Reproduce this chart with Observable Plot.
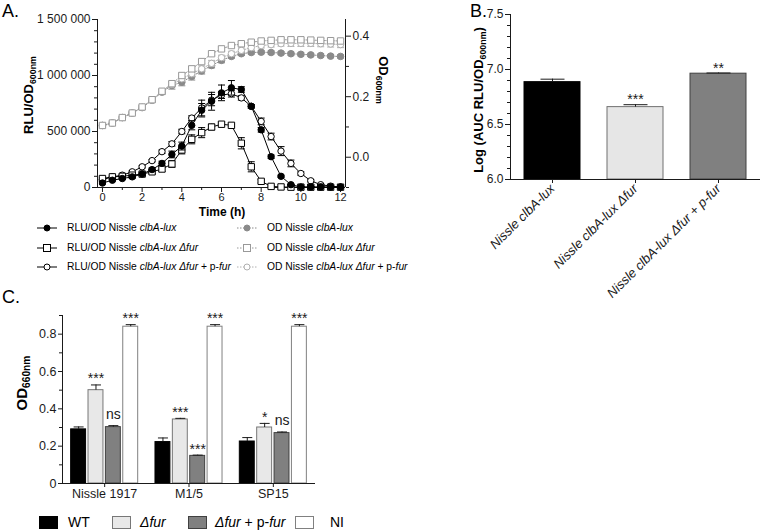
<!DOCTYPE html>
<html><head><meta charset="utf-8">
<script src="https://cdn.jsdelivr.net/npm/d3@7"></script>
<script src="https://cdn.jsdelivr.net/npm/@observablehq/plot@0.6"></script>
<style>
body{margin:0;background:#fff;font-family:"Liberation Sans",Arial,sans-serif;}
#fig{position:relative;width:760px;height:532px;overflow:hidden;background:#fff;}
.abs{position:absolute;white-space:nowrap;color:#000;line-height:1;}
.rotL{transform:translate(-50%,-50%) rotate(-90deg);}
.rotR{transform:translate(-50%,-50%) rotate(90deg);}
.sub{font-size:0.68em;position:relative;top:0.32em;}
.ctr{transform:translate(-50%,-50%);}
.leg{display:flex;align-items:center;transform:translateY(-50%);}
#panelB g[aria-label="x-axis tick label"] text{font-style:italic;}
</style>
</head><body>
<div id="fig"></div>
<script>
// ---------- Panel A data ----------
const timeH = [0,0.5,1,1.5,2,2.5,3,3.5,4,4.5,5,5.5,6,6.5,7,7.5,8,8.5,9,9.5,10,10.5,11,11.5,12];
const rluWT = [40000,65000,80000,95000,120000,160000,215000,295000,370000,555000,690000,770000,845000,890000,875000,725000,515000,275000,100000,25000,5000,4000,4000,4000,4000];
const rluWTerr = [10000,8000,8000,10000,10000,15000,20000,30000,35000,40000,60000,80000,70000,65000,25000,15000,20000,15000,10000,5000,3000,3000,3000,3000,3000];
const rluFur = [80000,95000,100000,110000,120000,140000,165000,210000,335000,430000,490000,540000,565000,555000,395000,185000,55000,10000,5000,3000,3000,3000,3000,3000,3000];
const rluFurErr = [8000,8000,8000,8000,10000,15000,20000,30000,35000,40000,45000,25000,12000,10000,50000,45000,15000,5000,3000,3000,3000,3000,3000,3000,3000];
const rluComp = [70000,95000,110000,140000,185000,240000,320000,390000,500000,620000,710000,780000,825000,838000,800000,725000,590000,455000,325000,215000,125000,60000,25000,12000,5000];
const rluCompErr = [8000,8000,8000,10000,10000,10000,15000,20000,20000,20000,70000,50000,30000,30000,20000,15000,30000,30000,40000,30000,15000,10000,8000,5000,5000];
const odWT = [0.105,0.113,0.131,0.146,0.164,0.188,0.215,0.237,0.248,0.267,0.285,0.303,0.320,0.333,0.342,0.346,0.347,0.346,0.344,0.342,0.340,0.338,0.336,0.334,0.333];
const odWTerr = [0.004,0.004,0.004,0.004,0.005,0.006,0.008,0.012,0.012,0.012,0.010,0.008,0.008,0.006,0.006,0.005,0.005,0.005,0.005,0.005,0.005,0.005,0.005,0.005,0.005];
const odFur = [0.105,0.113,0.131,0.146,0.166,0.190,0.218,0.243,0.270,0.292,0.316,0.342,0.358,0.369,0.375,0.380,0.384,0.386,0.388,0.388,0.388,0.387,0.386,0.385,0.384];
const odFurErr = [0.004,0.004,0.004,0.004,0.005,0.006,0.006,0.008,0.008,0.008,0.006,0.006,0.006,0.006,0.006,0.006,0.006,0.006,0.006,0.006,0.006,0.006,0.006,0.006,0.006];
const odComp = [0.105,0.113,0.131,0.146,0.165,0.189,0.216,0.240,0.259,0.276,0.292,0.310,0.329,0.342,0.353,0.362,0.369,0.372,0.375,0.376,0.376,0.376,0.375,0.374,0.372];
const odCompErr = [0.004,0.004,0.004,0.004,0.005,0.006,0.006,0.008,0.008,0.010,0.010,0.010,0.008,0.008,0.008,0.008,0.008,0.008,0.008,0.010,0.010,0.010,0.010,0.010,0.010];
const rluTicks = [0,500000,1000000,1500000];
const rluMinor = [100000,200000,300000,400000,600000,700000,800000,900000,1100000,1200000,1300000,1400000];
const odTicks = [0.0,0.2,0.4];
const odMinor = [-0.1,0.1,0.3];
const timeTicks = [0,2,4,6,8,10,12];
const timeMinor = [1,3,5,7,9,11];
const xDomainA = [-0.25,12.25];
const rluDomain = [0,1500000];
const odDomain = [-0.1,0.455];

// ---------- Panel B data ----------
const bLabels = ["Nissle clbA-lux","Nissle clbA-lux Δfur","Nissle clbA-lux Δfur + p-fur"];
const bValues = [6.885,6.658,6.962];
const bErr = [0.027,0.022,0.006];
const bStars = ["","***","**"];
const bFill = ["#000000","#e6e6e6","#808080"];
const bStroke = ["#000000","#707070","#404040"];
const bTicks = [6.0,6.5,7.0,7.5];
const bMinor = [6.1,6.2,6.3,6.4,6.6,6.7,6.8,6.9,7.1,7.2,7.3,7.4];

// ---------- Panel C data ----------
const cGroups = ["Nissle 1917","M1/5","SP15"];
const cSeries = ["WT","Δfur","Δfur + p-fur","NI"];
const cWT = [0.290,0.222,0.225];
const cWTerr = [0.013,0.022,0.021];
const cFur = [0.500,0.343,0.300];
const cFurErr = [0.028,0.006,0.022];
const cComp = [0.302,0.148,0.270];
const cCompErr = [0.008,0.004,0.006];
const cNI = [0.840,0.840,0.840];
const cNIErr = [0.011,0.011,0.011];
const cStarsWT = ["","",""];
const cStarsFur = ["***","***","*"];
const cStarsComp = ["ns","***","ns"];
const cStarsNI = ["***","***","***"];
const cFill = ["#000000","#e8e8e8","#808080","#ffffff"];
const cStroke = ["#000000","#777777","#404040","#808080"];
const cTicks = [0,0.2,0.4,0.6,0.8];
const cMinor = [0.1,0.3,0.5,0.7,0.9];

// ---------- helpers ----------
const fig = document.getElementById("fig");
const FONT = '"Liberation Sans", Arial, sans-serif';
function place(node, left, top){ const w=document.createElement("div"); w.style.position="absolute"; w.style.left=left+"px"; w.style.top=top+"px"; w.appendChild(node); fig.appendChild(w); return w; }
function txt(html, left, top, css){ const d=document.createElement("div"); d.className="abs "+(css||""); d.innerHTML=html; d.style.left=left+"px"; d.style.top=top+"px"; fig.appendChild(d); return d; }
const cap = w => ({draw(ctx){ ctx.moveTo(-w,0); ctx.lineTo(w,0); }});
const plotStyle = {background:"transparent", maxWidth:"none", overflow:"visible", fontFamily:FONT, color:"#1a1a1a"};

// ---------- Panel A ----------
const odToRlu = v => (v - odDomain[0]) / (odDomain[1]-odDomain[0]) * (rluDomain[1]-rluDomain[0]) + rluDomain[0];
const rluToOd = v => (v - rluDomain[0]) / (rluDomain[1]-rluDomain[0]) * (odDomain[1]-odDomain[0]) + odDomain[0];
const mk = (vals, errs, conv) => timeH.map((t,i)=>({t, v: conv(vals[i]), lo: conv(vals[i]-errs[i]), hi: conv(vals[i]+errs[i])}));
const id = v => v;
const sWT = mk(rluWT, rluWTerr, id), sFur = mk(rluFur, rluFurErr, id), sComp = mk(rluComp, rluCompErr, id);
const oWT = mk(odWT, odWTerr, odToRlu), oFur = mk(odFur, odFurErr, odToRlu), oComp = mk(odComp, odCompErr, odToRlu);

function seriesMarks(data, o){
  return [
    Plot.line(data, {x:"t", y:"v", stroke:o.stroke, strokeWidth:1, strokeDasharray:o.dash}),
    Plot.ruleX(data, {x:"t", y1:"lo", y2:"hi", stroke:o.stroke, strokeWidth:1}),
    Plot.dot(data, {x:"t", y:"hi", symbol:cap(3.5), stroke:o.stroke, strokeWidth:1}),
    Plot.dot(data, {x:"t", y:"lo", symbol:cap(3.5), stroke:o.stroke, strokeWidth:1}),
    Plot.dot(data, {x:"t", y:"v", symbol:o.symbol, r:o.r, fill:o.fill, stroke:o.stroke, strokeWidth:1})
  ];
}
const fmtSpace = d => d3.format(",")(d).replace(/,/g," ");
const plotA = Plot.plot({
  width:400, height:220, marginLeft:97, marginRight:55, marginTop:19, marginBottom:33,
  x:{domain:xDomainA}, y:{domain:rluDomain},
  style:plotStyle,
  marks:[
    Plot.axisY({ticks:rluMinor, tickSize:3, tickFormat:()=>"", label:null}),
    Plot.axisY({ticks:rluTicks, tickSize:5, tickPadding:2, tickFormat:fmtSpace, fontSize:12, label:null}),
    Plot.axisY({anchor:"right", ticks:odMinor.map(odToRlu), tickSize:3, tickFormat:()=>"", label:null}),
    Plot.axisY({anchor:"right", ticks:odTicks.map(odToRlu), tickSize:5, tickPadding:2, tickFormat:d=>d3.format(".1f")(Math.abs(rluToOd(d))<1e-9?0:rluToOd(d)), fontSize:12, label:null}),
    Plot.axisX({ticks:timeMinor, tickSize:3, tickFormat:()=>"", label:null}),
    Plot.axisX({ticks:timeTicks, tickSize:5, tickPadding:1, fontSize:11, label:null}),
    Plot.ruleX([xDomainA[0], xDomainA[1]], {stroke:"#1a1a1a"}),
    Plot.ruleY([rluDomain[0]], {stroke:"#1a1a1a"}),
    ...seriesMarks(oWT, {stroke:"#8a8a8a", fill:"#8a8a8a", symbol:"circle", r:3.3, dash:"1.5,1.5"}),
    ...seriesMarks(oComp, {stroke:"#b0b0b0", fill:"white", symbol:"circle", r:3.2, dash:"1.5,1.5"}),
    ...seriesMarks(oFur, {stroke:"#999999", fill:"white", symbol:"square", r:3.6, dash:"1.5,1.5"}),
    ...seriesMarks(sComp, {stroke:"#000", fill:"white", symbol:"circle", r:3.2}),
    ...seriesMarks(sFur, {stroke:"#000", fill:"white", symbol:"square", r:3.6}),
    ...seriesMarks(sWT, {stroke:"#000", fill:"#000", symbol:"circle", r:3.2})
  ]
});
place(plotA, 0, 0);

// ---------- Panel B ----------
const bData = bLabels.map((l,i)=>({l, v:bValues[i], hi:bValues[i]+bErr[i], star:bStars[i], fill:bFill[i], stroke:bStroke[i]}));
const plotB = Plot.plot({
  width:300, height:260, marginLeft:50, marginRight:0, marginTop:14, marginBottom:81,
  x:{domain:bLabels, paddingInner:0.33, paddingOuter:0.165},
  y:{domain:[bTicks[0], bTicks[bTicks.length-1]]},
  color:{type:"identity"},
  style:plotStyle,
  marks:[
    Plot.axisY({ticks:bMinor, tickSize:3, tickFormat:()=>"", label:null}),
    Plot.axisY({ticks:bTicks, tickSize:5, tickPadding:2, tickFormat:d3.format(".1f"), fontSize:12, label:null}),
    Plot.axisX({tickSize:4, tickPadding:3, tickRotate:-45, fontSize:13, fontStyle:"italic", label:null}),
    Plot.barY(bData, {x:"l", y1:bTicks[0], y2:"v", fill:"fill", stroke:"stroke", strokeWidth:1}),
    Plot.ruleX(bData, {x:"l", y1:"v", y2:"hi", stroke:"#1a1a1a"}),
    Plot.dot(bData, {x:"l", y:"hi", symbol:cap(12), stroke:"#1a1a1a", strokeWidth:1}),
    Plot.text(bData, {x:"l", y:"hi", text:"star", dy:-5, fontSize:14}),
    Plot.frame({anchor:"left", stroke:"#1a1a1a"}),
    Plot.ruleY([bTicks[0]], {stroke:"#1a1a1a"})
  ]
});
plotB.id = "panelB";
place(plotB, 460, 0);

// ---------- Panel C ----------
const inner = d3.scaleBand().domain(cSeries).range([0.1025, 0.8975]).paddingInner(0.14);
const cVals = [cWT, cFur, cComp, cNI], cErrs = [cWTerr, cFurErr, cCompErr, cNIErr], cStars = [cStarsWT, cStarsFur, cStarsComp, cStarsNI];
const cData = [];
cGroups.forEach((g, gi) => cSeries.forEach((s, si) => cData.push({
  gi, s, x1: gi + inner(s), x2: gi + inner(s) + inner.bandwidth(), xc: gi + inner(s) + inner.bandwidth()/2,
  v: cVals[si][gi], hi: cVals[si][gi] + cErrs[si][gi], star: cStars[si][gi], fill: cFill[si], stroke: cStroke[si]
})));
const plotC = Plot.plot({
  width:330, height:210, marginLeft:62, marginRight:15, marginTop:15, marginBottom:27,
  x:{domain:[0, cGroups.length]},
  y:{domain:[0, cMinor[cMinor.length-1]]},
  color:{type:"identity"},
  style:plotStyle,
  marks:[
    Plot.axisY({ticks:cMinor, tickSize:3, tickFormat:()=>"", label:null}),
    Plot.axisY({ticks:cTicks, tickSize:4, tickPadding:2, tickFormat:d=>d===0?"0":d3.format(".1f")(d), fontSize:12.5, label:null}),
    Plot.axisX({ticks:cGroups.map((g,i)=>i+0.5), tickSize:4, tickPadding:2, tickFormat:d=>cGroups[Math.floor(d)], fontSize:12.5, label:null}),
    Plot.rectY(cData, {x1:"x1", x2:"x2", y1:0, y2:"v", fill:"fill", stroke:"stroke", strokeWidth:1}),
    Plot.ruleX(cData, {x:"xc", y1:"v", y2:"hi", stroke:"#1a1a1a"}),
    Plot.dot(cData, {x:"xc", y:"hi", symbol:cap(5), stroke:"#1a1a1a", strokeWidth:1}),
    Plot.text(cData.filter(d=>d.star && d.star!=="ns"), {x:"xc", y:"hi", text:"star", dy:-6, fontSize:14}),
    Plot.text(cData.filter(d=>d.star==="ns"), {x:"xc", y:"hi", text:"star", dy:-11, fontSize:14}),
    Plot.ruleX([0], {stroke:"#1a1a1a"}),
    Plot.ruleY([0], {stroke:"#1a1a1a"})
  ]
});
place(plotC, 0, 300);

// ---------- Text overlays ----------
txt("A.", 2, 2, "").style.fontSize = "18px";
txt("B.", 470, 2, "").style.fontSize = "18px";
txt("C.", 2, 288, "").style.fontSize = "18px";
let e;
e = txt('RLU/OD<span class="sub">600nm</span>', 28, 95, "rotL"); e.style.fontSize="13px"; e.style.fontWeight="bold";
e = txt('OD<span class="sub">600nm</span>', 383, 80, "rotR"); e.style.fontSize="13px"; e.style.fontWeight="bold";
e = txt('Time (h)', 222, 212, "ctr"); e.style.fontSize="12px"; e.style.fontWeight="bold";
e = txt('Log (AUC RLU/OD<span class="sub">600nm</span>)', 478, 100, "rotL"); e.style.fontSize="13px"; e.style.fontWeight="bold";
e = txt('OD<span class="sub">660nm</span>', 22, 383, "rotL"); e.style.fontSize="15px"; e.style.fontWeight="bold";

// Legend A
const legA = [
  {x:37, y:228, line:"#000", dash:"", sym:"circle", fill:"#000", stroke:"#000", html:'RLU/OD Nissle <i>clbA-lux</i>'},
  {x:37, y:248, line:"#000", dash:"", sym:"square", fill:"#fff", stroke:"#000", html:'RLU/OD Nissle <i>clbA-lux Δfur</i>'},
  {x:37, y:267, line:"#000", dash:"", sym:"circle", fill:"#fff", stroke:"#000", html:'RLU/OD Nissle <i>clbA-lux Δfur</i> + p-<i>fur</i>'},
  {x:237, y:228, line:"#8a8a8a", dash:"1.5,1.5", sym:"circle", fill:"#8a8a8a", stroke:"#8a8a8a", html:'OD Nissle <i>clbA-lux</i>'},
  {x:237, y:248, line:"#999999", dash:"1.5,1.5", sym:"square", fill:"#fff", stroke:"#999999", html:'OD Nissle <i>clbA-lux Δfur</i>'},
  {x:237, y:267, line:"#b0b0b0", dash:"1.5,1.5", sym:"circle", fill:"#fff", stroke:"#b0b0b0", html:'OD Nissle <i>clbA-lux Δfur</i> + p-<i>fur</i>'}
];
legA.forEach(L => {
  const m = L.sym==="circle" ? `<circle cx="10" cy="6" r="3" fill="${L.fill}" stroke="${L.stroke}"/>` : `<rect x="6.5" y="2.5" width="7" height="7" fill="${L.fill}" stroke="${L.stroke}"/>`;
  const d = txt(`<svg width="20" height="12" style="display:block"><line x1="0" y1="6" x2="20" y2="6" stroke="${L.line}" stroke-dasharray="${L.dash}"/>${m}</svg><span style="margin-left:10px">${L.html}</span>`, L.x, L.y, "leg");
  d.style.fontSize = "10.3px";
});

// Legend C
const legC = [
  {x:39, tx:68, fill:cFill[0], stroke:cStroke[0], html:'WT'},
  {x:112, tx:140, fill:cFill[1], stroke:cStroke[1], html:'<i>Δfur</i>'},
  {x:188, tx:215, fill:cFill[2], stroke:cStroke[2], html:'<i>Δfur</i> + p-<i>fur</i>'},
  {x:295, tx:330, fill:cFill[3], stroke:cStroke[3], html:'NI'}
];
legC.forEach(L => {
  txt(`<svg width="19" height="13" style="display:block"><rect x="0.5" y="0.5" width="18" height="12" fill="${L.fill}" stroke="${L.stroke}"/></svg>`, L.x, 516, "");
  const t = txt(L.html, L.tx, 522, "");
  t.style.fontSize = "14px"; t.style.transform = "translateY(-50%)";
});
</script>
</body></html>
